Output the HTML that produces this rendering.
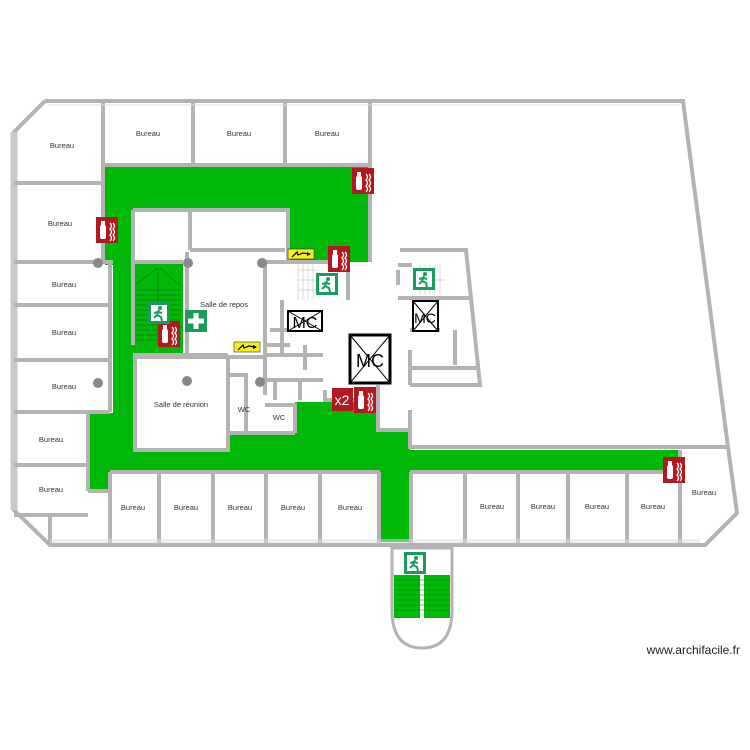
<!DOCTYPE html>
<html><head><meta charset="utf-8"><style>
html,body{margin:0;padding:0;background:#fff;}
svg{display:block;}
text{font-family:"Liberation Sans",sans-serif;}
</style></head><body>
<svg width="750" height="750" viewBox="0 0 750 750" xmlns="http://www.w3.org/2000/svg">
<defs>
<g id="ext">
<rect width="22" height="26" fill="#b0191f"/>
<rect x="4" y="8" width="6" height="14" rx="2" fill="#fff"/>
<rect x="5" y="4" width="4" height="4" fill="#fff"/>
<path d="M14 6 q3 3 0 6 q3 3 0 6 q3 3 0 6 M17 6 q3 3 0 6 q3 3 0 6 q3 3 0 6" stroke="#fff" stroke-width="1.3" fill="none"/>
</g>
<g id="exit">
<rect width="22" height="22" fill="#1a9a5c"/>
<rect x="3" y="3" width="16" height="16" fill="#fff"/>
<circle cx="12" cy="6" r="2" fill="#1a9a5c"/>
<path d="M11 8 L9 13 L6 16 M9 13 L13 15 L14 19 M10 10 L14 11 M10 10 L6 11" stroke="#1a9a5c" stroke-width="2" fill="none"/>
</g>
<g id="volt">
<rect width="26" height="10" fill="#f4f01a" stroke="#333" stroke-width=".6"/>
<path d="M4 8 L9 3 L10 6 L15 4 L21 5" stroke="#000" stroke-width="1.2" fill="none"/>
<path d="M19 3 L23 5 L19 7Z" fill="#000"/>
</g>
</defs>

<g fill="#00b807">
<rect x="105" y="165" width="265" height="43"/>
<rect x="288" y="165" width="82" height="97"/>
<rect x="105" y="165" width="28" height="100"/>
<rect x="113" y="262" width="70" height="91"/>
<rect x="88" y="413" width="47" height="59"/>
<rect x="88" y="470" width="22" height="21"/>
<rect x="113" y="345" width="22" height="70"/>
<rect x="88" y="450" width="592" height="22"/>
<rect x="228" y="433" width="152" height="20"/>
<rect x="295" y="402" width="85" height="35"/>
<rect x="380" y="430" width="30" height="112"/>
</g>
<g stroke="#0a7a10" stroke-width="0.7">
<path d="M135 290 H180 M135 295 H180 M135 300 H180 M135 305 H180 M135 310 H180 M135 315 H180 M135 320 H180 M135 325 H180 M135 330 H180 M135 335 H180 M135 340 H180 M135 285 L158 268 M180 285 L160 268 M158 268 V345"/>
</g>
<g stroke="#ccc" stroke-width="0.7" fill="none">
<path d="M298 264 V300 M303 264 V300 M308 264 V300 M313 264 V300 M298 270 H318 M298 280 H318 M298 290 H318"/>
<path d="M420 265 V295 M425 265 V295 M430 265 V295 M435 265 V295 M440 265 V295 M420 280 H445"/>
</g>

<g stroke="#b3b3b3" stroke-width="4" fill="none" stroke-linejoin="miter">
<path d="M45 101 H683 L728 447 L737 513 L705 545 H50 L14 510 V132 L45 101"/>
<path d="M14 132 V510" stroke-width="7" stroke="#c8c8c8"/>
<path d="M103 101 V165 M193 101 V163 M285 101 V163 M370 101 V262 M103 165 H370"/>
<path d="M14 183 H103 M14 262 H113 M14 305 H110 M14 360 H110 M14 412 H110 M14 465 H88 M14 515 H88 M103 165 V262 M110 262 V412 M88 412 V491 M88 491 H108"/>
<path d="M133 210 H288 V262 M133 210 V345 M190 210 V250 M190 250 H285 M133 262 H183 M187 252 V355 M133 355 H228"/>
<path d="M135 357 H228 V450 H135 Z"/>
<path d="M228 357 H265 V375 M230 375 H248 M246 375 V433 M228 433 H295 M265 262 V395 M265 262 H348 V300"/>
<path d="M265 405 H295 V433 M265 380 H323 M265 355 H323 M265 345 H290 M270 330 H322 M282 300 V355"/>
<path d="M275 380 V400 M300 380 V400 M305 345 V370 M325 400 H378 M325 390 V402"/>
<path d="M378 385 V430 H410 V447 H728 M410 410 V430"/>
<path d="M400 250 H466 L480 385 H410 M398 265 H412 M398 298 H470 M398 270 V285 M410 350 V385 M410 368 H478 M455 330 V365 M410 330 H440"/>
<path d="M110 472 H380 M410 472 H680 M680 450 V545 M110 472 V545 M159 472 V545 M213 472 V545 M266 472 V545 M320 472 V545 M379 472 V545 M411 472 V545 M465 472 V545 M518 472 V545 M568 472 V545 M627 472 V545 M50 515 V545"/>
<path d="M392 548 V610 Q392 648 422 648 Q452 648 452 610 V548 Z" stroke-width="3"/>
</g>
<g stroke="#ddd" stroke-width="1">
<path d="M50 540 H700 M50 542 H700 M48 105 H680"/>
</g>

<rect x="394" y="575" width="26" height="43" fill="#00b807"/>
<rect x="424" y="575" width="26" height="43" fill="#00b807"/>
<g stroke="#0a7a10" stroke-width=".6"><path d="M394 580 H450 M394 585 H450 M394 590 H450 M394 595 H450 M394 600 H450 M394 605 H450 M394 610 H450"/></g>

<g fill="#888">
<circle cx="98" cy="263" r="5"/><circle cx="188" cy="263" r="5"/><circle cx="262" cy="263" r="5"/>
<circle cx="98" cy="383" r="5"/><circle cx="187" cy="381" r="5"/><circle cx="260" cy="382" r="5"/>
</g>

<g stroke="#000" fill="#fff">
<rect x="350" y="335" width="40" height="48" stroke-width="3"/>
<path d="M350 335 L390 383 M390 335 L350 383" stroke-width="1"/>
<rect x="288" y="311" width="34" height="20" stroke-width="2"/>
<path d="M288 311 L322 331 M322 311 L288 331" stroke-width="1"/>
<rect x="413" y="301" width="25" height="30" stroke-width="2"/>
<path d="M413 301 L438 331 M438 301 L413 331" stroke-width="1"/>
</g>
<text x="370" y="367" font-size="18" text-anchor="middle">MC</text>
<text x="305" y="328" font-size="16" text-anchor="middle">MC</text>
<text x="425" y="323" font-size="14" text-anchor="middle">MC</text>

<use href="#ext" x="352" y="168"/>
<use href="#ext" x="96" y="217"/>
<use href="#ext" x="328" y="246"/>
<use href="#ext" x="158" y="321"/>
<use href="#ext" x="354" y="387"/>
<use href="#ext" x="663" y="457"/>
<rect x="332" y="388" width="21" height="23" fill="#b0191f"/>
<text x="342" y="405" font-size="14" fill="#fff" text-anchor="middle">x2</text>
<use href="#volt" x="288" y="249"/>
<use href="#volt" x="234" y="342"/>
<rect x="185" y="310" width="22" height="22" fill="#1a9a5c"/>
<path d="M196 313 V329 M188 321 H204" stroke="#fff" stroke-width="5"/>
<use href="#exit" x="148" y="302"/>
<use href="#exit" x="316" y="273"/>
<use href="#exit" x="413" y="268"/>
<use href="#exit" x="404" y="552"/>

<g font-size="7.5" fill="#333" text-anchor="middle">
<text x="62" y="148">Bureau</text>
<text x="148" y="136">Bureau</text>
<text x="239" y="136">Bureau</text>
<text x="327" y="136">Bureau</text>
<text x="60" y="226">Bureau</text>
<text x="64" y="287">Bureau</text>
<text x="64" y="335">Bureau</text>
<text x="64" y="389">Bureau</text>
<text x="51" y="442">Bureau</text>
<text x="51" y="492">Bureau</text>
<text x="224" y="307">Salle de repos</text>
<text x="181" y="407">Salle de réunion</text>
<text x="244" y="412">WC</text>
<text x="279" y="420">WC</text>
<text x="133" y="510">Bureau</text>
<text x="186" y="510">Bureau</text>
<text x="240" y="510">Bureau</text>
<text x="293" y="510">Bureau</text>
<text x="350" y="510">Bureau</text>
<text x="492" y="509">Bureau</text>
<text x="543" y="509">Bureau</text>
<text x="597" y="509">Bureau</text>
<text x="653" y="509">Bureau</text>
<text x="704" y="495">Bureau</text>
</g>
<text x="740" y="654" font-size="12" text-anchor="end" fill="#222">www.archifacile.fr</text>
</svg>
</body></html>
